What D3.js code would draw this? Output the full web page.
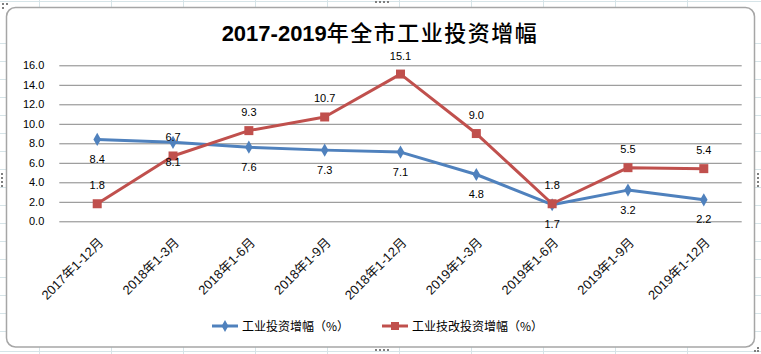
<!DOCTYPE html>
<html><head><meta charset="utf-8">
<script src="https://cdnjs.cloudflare.com/ajax/libs/d3/7.8.5/d3.min.js"></script>
<style>body{margin:0;background:#fff;}svg{display:block;}</style>
</head><body>
<script>
const categories = ["2017年1-12月","2018年1-3月","2018年1-6月","2018年1-9月","2018年1-12月","2019年1-3月","2019年1-6月","2019年1-9月","2019年1-12月"];
const industrialInvest = [8.4, 8.1, 7.6, 7.3, 7.1, 4.8, 1.7, 3.2, 2.2];
const techInvest = [1.8, 6.7, 9.3, 10.7, 15.1, 9.0, 1.8, 5.5, 5.4];
const yTicks = [0, 2, 4, 6, 8, 10, 12, 14, 16];
const seriesNames = ["工业投资增幅（%）", "工业技改投资增幅（%）"];
const titleNum = "2017-2019";
const titleCJK = "年全市工业投资增幅";

const W = 761, H = 354;
const svg = d3.select("body").append("svg").attr("width", W).attr("height", H);

// spreadsheet background grid
const bg = svg.append("g").attr("stroke", "#d6e4e8").attr("stroke-width", 1);
[39.5, 111.5, 183.5, 255.5, 327.5, 399.5, 471.5, 543.5, 615.5, 687.5].forEach(x =>
  bg.append("line").attr("x1", x).attr("x2", x).attr("y1", 0).attr("y2", H));
[1.5, 43.5, 61.5, 79.5, 97.5, 115.5, 133.5, 151.5, 169.5, 187.5, 205.5, 223.5, 241.5, 259.5, 277.5, 295.5, 313.5, 331.5, 351.5].forEach(y =>
  bg.append("line").attr("x1", 0).attr("x2", W).attr("y1", y).attr("y2", y));

// chart area
svg.append("rect").attr("x", 6.5).attr("y", 7.5).attr("width", 748).attr("height", 339.5)
  .attr("rx", 9).attr("fill", "#fff").attr("stroke", "#a6a6a6").attr("stroke-width", 1.5);

// handles
const hd = svg.append("g").attr("fill", "#7f7f7f");
[[2,3],[6,3],[2,7],[375,1],[379,1],[383,1],[387,1],[375,349],[379,349],[383,349],[387,349],
 [1,173],[1,177],[1,181],[1,185],[757,173],[757,177],[757,181],[757,185],[754,350],[757,347],[757,350]].forEach(([x,y]) =>
  hd.append("rect").attr("x", x).attr("y", y).attr("width", 2).attr("height", 2));

const m = {left: 59.3, right: 741.7, top: 65.3, bottom: 221.3};
const x = d3.scaleBand().domain(categories).range([m.left, m.right]);
const y = d3.scaleLinear().domain([0, 16]).range([m.bottom, m.top]);
const cx = d => x(d) + x.bandwidth() / 2;

// title
const title = svg.append("text").attr("x", 380).attr("y", 41).attr("text-anchor", "middle")
  .attr("font-weight", "bold").attr("fill", "#000");
title.append("tspan").attr("font-family", "Liberation Sans, Arial, sans-serif").attr("font-size", 22).text(titleNum);
title.append("tspan").attr("font-family", "Noto Sans CJK SC").attr("font-size", 22).attr("font-weight", "500")
  .attr("letter-spacing", 1.5).text(titleCJK);

// gridlines
const yAxis = d3.axisLeft(y).tickValues(yTicks).tickSize(-(m.right - m.left)).tickFormat(d3.format(".1f"));
const ga = svg.append("g").attr("transform", `translate(${m.left},0)`).call(yAxis);
ga.select(".domain").remove();
ga.selectAll(".tick line").attr("stroke", "#868686").attr("stroke-width", 1);
ga.selectAll(".tick text").attr("x", -15).attr("font-family", "Liberation Sans, Arial, sans-serif")
  .attr("font-size", 11).attr("fill", "#000");

// x labels
const xAxis = d3.axisBottom(x).tickSize(0);
const gx = svg.append("g").attr("transform", `translate(0,${m.bottom})`).call(xAxis);
gx.select(".domain").remove();
gx.selectAll(".tick text").attr("font-family", "Liberation Sans, Noto Sans CJK SC, sans-serif")
  .attr("font-size", 13).attr("fill", "#111").attr("text-anchor", "end")
  .attr("x", 0).attr("y", 0).attr("dy", 0)
  .attr("transform", "translate(7,22) rotate(-45)");

const line = d3.line().x((d, i) => cx(categories[i])).y(d => y(d));
const blue = "#4f81bd", red = "#c0504d";

// blue series
svg.append("path").datum(industrialInvest).attr("d", line).attr("fill", "none")
  .attr("stroke", blue).attr("stroke-width", 3).attr("stroke-linejoin", "round");
svg.append("g").selectAll("path").data(industrialInvest).join("path")
  .attr("d", d3.symbol(d3.symbolDiamond, 50)).attr("fill", blue)
  .attr("transform", (d, i) => `translate(${cx(categories[i])},${y(d)})`);
// red series
svg.append("path").datum(techInvest).attr("d", line).attr("fill", "none")
  .attr("stroke", red).attr("stroke-width", 3).attr("stroke-linejoin", "round");
svg.append("g").selectAll("rect").data(techInvest).join("rect")
  .attr("x", (d, i) => cx(categories[i]) - 4.5).attr("y", d => y(d) - 4.5)
  .attr("width", 9).attr("height", 9).attr("fill", red);

// labels
const lf = "Liberation Sans, Arial, sans-serif";
svg.append("g").selectAll("text").data(industrialInvest).join("text")
  .attr("x", (d, i) => cx(categories[i])).attr("y", d => y(d) + 23.5)
  .attr("text-anchor", "middle").attr("font-family", lf).attr("font-size", 11).text(d => d.toFixed(1));
svg.append("g").selectAll("text").data(techInvest).join("text")
  .attr("x", (d, i) => cx(categories[i])).attr("y", d => y(d) - 14.5)
  .attr("text-anchor", "middle").attr("font-family", lf).attr("font-size", 11).text(d => d.toFixed(1));

// legend
const leg = svg.append("g");
const legItems = [{x: 212, c: blue, t: seriesNames[0], s: "d"}, {x: 382, c: red, t: seriesNames[1], s: "s"}];
legItems.forEach(it => {
  leg.append("line").attr("x1", it.x).attr("x2", it.x + 26).attr("y1", 326).attr("y2", 326)
    .attr("stroke", it.c).attr("stroke-width", 3);
  if (it.s === "d") leg.append("path").attr("d", d3.symbol(d3.symbolDiamond, 40)).attr("fill", it.c)
    .attr("transform", `translate(${it.x + 13},326)`);
  else leg.append("rect").attr("x", it.x + 9).attr("y", 322).attr("width", 8).attr("height", 8).attr("fill", it.c);
  leg.append("text").attr("x", it.x + 30).attr("y", 330.5).attr("font-family", "Noto Sans CJK SC")
    .attr("font-size", 12).attr("fill", "#000").text(it.t);
});
</script>
</body></html>
